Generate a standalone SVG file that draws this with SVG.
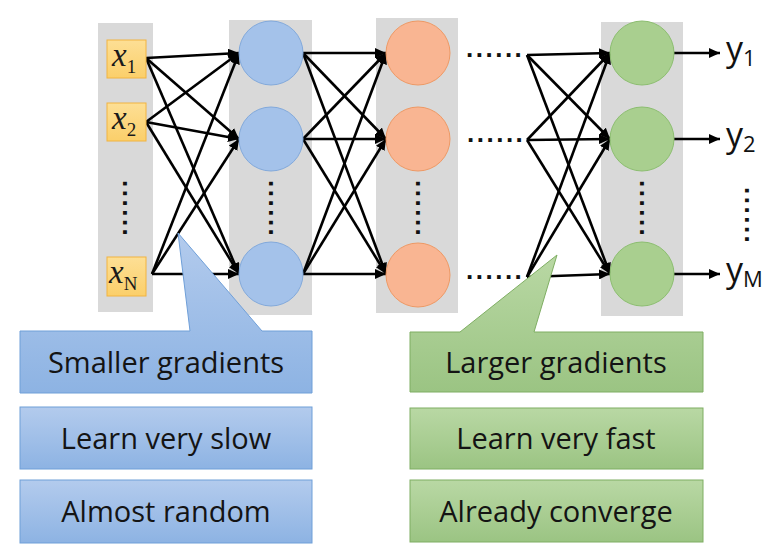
<svg xmlns="http://www.w3.org/2000/svg" width="784" height="554" viewBox="0 0 784 554">
<defs>
<marker id="ah" markerUnits="userSpaceOnUse" markerWidth="12" markerHeight="10" refX="11" refY="5" orient="auto"><path d="M0,0 L11,5 L0,10 z" fill="#000"/></marker>
<linearGradient id="gBlue" x1="0" y1="0" x2="0" y2="1"><stop offset="0" stop-color="#b3cbed"/><stop offset="1" stop-color="#8db3e3"/></linearGradient>
<linearGradient id="gGreen" x1="0" y1="0" x2="0" y2="1"><stop offset="0" stop-color="#b9d8a4"/><stop offset="1" stop-color="#9bc483"/></linearGradient>
<linearGradient id="gIn" x1="0" y1="0" x2="0" y2="1"><stop offset="0" stop-color="#fddf95"/><stop offset="1" stop-color="#fbcf6a"/></linearGradient>
<style>
.col{fill:#d9d9d9}
.inbox{fill:url(#gIn);stroke:#f2b440;stroke-width:1}
.xl{font-family:"Liberation Serif",serif;font-style:italic;font-size:33px;fill:#1a1a1a}
.xs{font-family:"Liberation Serif",serif;font-style:normal;font-size:19px}
.nb{fill:#a4c2ea;stroke:#82a9db;stroke-width:1}
.no{fill:#f9b592;stroke:#ee9965;stroke-width:1}
.ng{fill:#a9cf8f;stroke:#8cbe70;stroke-width:1}
.cn line{stroke:#000;stroke-width:2.6;marker-end:url(#ah)}
.dots{font-family:"Liberation Sans",sans-serif;font-weight:bold;font-size:26px;letter-spacing:2.5px;fill:#111}
.yl{font-family:"Open Sans",sans-serif;font-size:34px;fill:#111}
.ys{font-size:22px}
.bb{fill:url(#gBlue);stroke:#6f9fd8;stroke-width:1}
.gb{fill:url(#gGreen);stroke:#7fae63;stroke-width:1}
.bt{font-family:"Open Sans",sans-serif;font-size:29px;fill:#141414;text-anchor:middle}
</style>
</defs>
<rect width="784" height="554" fill="#fff"/>
<g id="columns">
<rect class="col" x="98" y="23" width="55" height="289"/>
<rect class="col" x="229" y="20" width="83" height="295"/>
<rect class="col" x="376" y="18" width="82" height="295"/>
<rect class="col" x="601" y="22" width="82" height="294"/>
</g>
<g id="connectors" class="cn">
<line x1="146" y1="58" x2="239" y2="53"/><line x1="146" y1="58" x2="239" y2="139"/><line x1="146" y1="58" x2="239" y2="274"/>
<line x1="146" y1="122" x2="239" y2="53"/><line x1="146" y1="122" x2="239" y2="139"/><line x1="146" y1="122" x2="239" y2="274"/>
<line x1="152" y1="274" x2="239" y2="53"/><line x1="152" y1="274" x2="239" y2="139"/><line x1="152" y1="274" x2="239" y2="274"/>
<line x1="303" y1="53" x2="386" y2="53"/><line x1="303" y1="53" x2="386" y2="139"/><line x1="303" y1="53" x2="386" y2="274"/>
<line x1="303" y1="139" x2="386" y2="53"/><line x1="303" y1="139" x2="386" y2="139"/><line x1="303" y1="139" x2="386" y2="274"/>
<line x1="303" y1="274" x2="386" y2="53"/><line x1="303" y1="274" x2="386" y2="139"/><line x1="303" y1="274" x2="386" y2="274"/>
<line x1="527" y1="55" x2="610" y2="53"/><line x1="527" y1="55" x2="610" y2="139"/><line x1="527" y1="55" x2="610" y2="274"/>
<line x1="527" y1="140" x2="610" y2="53"/><line x1="527" y1="140" x2="610" y2="139"/><line x1="527" y1="140" x2="610" y2="274"/>
<line x1="527" y1="277" x2="610" y2="53"/><line x1="527" y1="277" x2="610" y2="139"/><line x1="527" y1="277" x2="610" y2="274"/>
<line x1="674" y1="53" x2="720" y2="53"/><line x1="674" y1="139" x2="720" y2="139"/><line x1="674" y1="274" x2="720" y2="274"/>
</g>
<g id="in1"><rect class="inbox" x="107" y="40" width="39" height="38"/><text class="xl" x="112" y="66">x<tspan class="xs" dy="7">1</tspan></text></g>
<g id="in2"><rect class="inbox" x="107" y="103" width="39" height="38"/><text class="xl" x="112" y="129">x<tspan class="xs" dy="7">2</tspan></text></g>
<g id="inN"><rect class="inbox" x="107" y="257" width="39" height="39"/><text class="xl" x="109" y="283">x<tspan class="xs" dy="7">N</tspan></text></g>
<g id="h1a"><circle class="nb" cx="271" cy="53" r="32"/></g>
<g id="h1b"><circle class="nb" cx="271" cy="139" r="32"/></g>
<g id="h1c"><circle class="nb" cx="271" cy="274" r="32"/></g>
<g id="h2a"><circle class="no" cx="418" cy="53" r="32"/></g>
<g id="h2b"><circle class="no" cx="418" cy="139" r="32"/></g>
<g id="h2c"><circle class="no" cx="418" cy="275" r="32"/></g>
<g id="oa"><circle class="ng" cx="642" cy="53" r="32"/></g>
<g id="ob"><circle class="ng" cx="642" cy="139" r="32"/></g>
<g id="oc"><circle class="ng" cx="642" cy="274" r="32"/></g>
<g id="dots">
<text class="dots" transform="translate(125,180) rotate(90)" x="0" y="2">......</text>
<text class="dots" transform="translate(271,180) rotate(90)" x="0" y="2">......</text>
<text class="dots" transform="translate(418,180) rotate(90)" x="0" y="2">......</text>
<text class="dots" transform="translate(642,180) rotate(90)" x="0" y="2">......</text>
<text class="dots" transform="translate(747,187) rotate(90)" x="0" y="2">......</text>
<text class="dots" x="466" y="57">......</text>
<text class="dots" x="467" y="142">......</text>
<text class="dots" x="466" y="279">......</text>
</g>
<g id="outs">
<text class="yl" x="726" y="61">y<tspan class="ys" dy="5">1</tspan></text>
<text class="yl" x="726" y="147">y<tspan class="ys" dy="5">2</tspan></text>
<text class="yl" x="726" y="282">y<tspan class="ys" dy="5">M</tspan></text>
</g>
<g id="callout-blue"><path class="bb" d="M20,331 L190,331 L178,233 L262,331 L312,331 L312,393 L20,393 Z"/><text class="bt" x="166" y="373">Smaller gradients</text></g>
<g id="box-slow"><rect class="bb" x="20" y="407" width="292" height="62"/><text class="bt" x="166" y="449">Learn very slow</text></g>
<g id="box-random"><rect class="bb" x="20" y="480" width="292" height="63"/><text class="bt" x="166" y="522">Almost random</text></g>
<g id="callout-green"><path class="gb" d="M410,332 L460,332 L557,255 L534,332 L703,332 L703,392 L410,392 Z"/><text class="bt" x="556" y="373">Larger gradients</text></g>
<g id="box-fast"><rect class="gb" x="410" y="408" width="293" height="61"/><text class="bt" x="556" y="449">Learn very fast</text></g>
<g id="box-conv"><rect class="gb" x="410" y="480" width="293" height="62"/><text class="bt" x="556" y="522">Already converge</text></g>
</svg>
